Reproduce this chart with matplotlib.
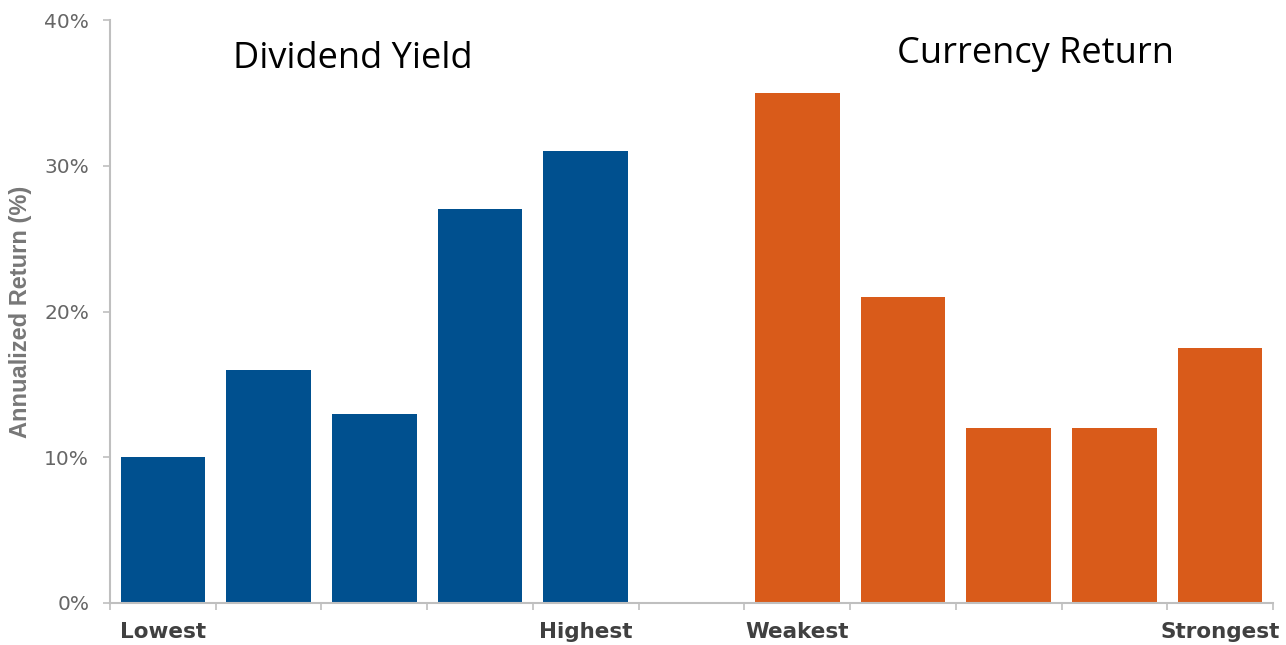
import matplotlib
matplotlib.use("Agg")
import matplotlib.pyplot as plt
import numpy as np

# Data
dividend_labels = ["Lowest", "", "", "", "Highest"]
dividend_values = [10, 16, 13, 27, 31]
currency_labels = ["Weakest", "", "", "", "Strongest"]
currency_values = [35, 21, 12, 12, 17.5]
y_ticks = [0, 10, 20, 30, 40]
y_tick_labels = ["0%", "10%", "20%", "30%", "40%"]

blue = "#00508F"
orange = "#D95B1A"
grey_axis = "#BFBFBF"
grey_text = "#666666"

fig = plt.figure(figsize=(12.86, 6.45), dpi=100)
ax = fig.add_axes([110/1286, 42/645, (1273-110)/1286, (603-20)/645])

x_div = np.arange(len(dividend_values))
x_cur = np.arange(len(currency_values)) + len(dividend_values) + 1
ax.bar(x_div, dividend_values, width=0.8, color=blue)
ax.bar(x_cur, currency_values, width=0.8, color=orange)

n_slots = len(dividend_values) + 1 + len(currency_values)
ax.set_xlim(-0.5, n_slots - 0.5)
ax.set_ylim(0, 40)

# Tick marks at slot boundaries, labels at bar centres
ax.set_xticks(np.arange(-0.5, n_slots, 1.0), minor=True)
ax.set_xticks(np.concatenate([x_div, x_cur]))
ax.set_xticklabels(dividend_labels + currency_labels, fontweight="bold",
                   fontsize=15.5, color="#404040", family=["DejaVu Sans"])
ax.tick_params(axis="x", which="major", length=0, pad=14)
ax.tick_params(axis="x", which="minor", length=5, color=grey_axis, width=1.2)

ax.set_yticks(y_ticks)
ax.set_yticklabels(y_tick_labels, fontsize=14.5, color=grey_text,
                   family=["DejaVu Sans"])
ax.tick_params(axis="y", length=5, color=grey_axis, width=1.2, pad=10)

for s in ["top", "right"]:
    ax.spines[s].set_visible(False)
for s in ["left", "bottom"]:
    ax.spines[s].set_color(grey_axis)
    ax.spines[s].set_linewidth(1.5)

ax.set_ylabel("Annualized Return (%)", fontsize=17, color="#777777", fontweight="bold",
              family=["Liberation Sans", "DejaVu Sans"], labelpad=9)

ax.text(1.8, 37.3, "Dividend Yield", ha="center", va="center",
        fontsize=26, color="black", family=["Open Sans", "DejaVu Sans"])
ax.text(8.25, 37.65, "Currency Return", ha="center", va="center",
        fontsize=26, color="black", family=["Open Sans", "DejaVu Sans"])

fig.savefig("out.png", dpi=100)
